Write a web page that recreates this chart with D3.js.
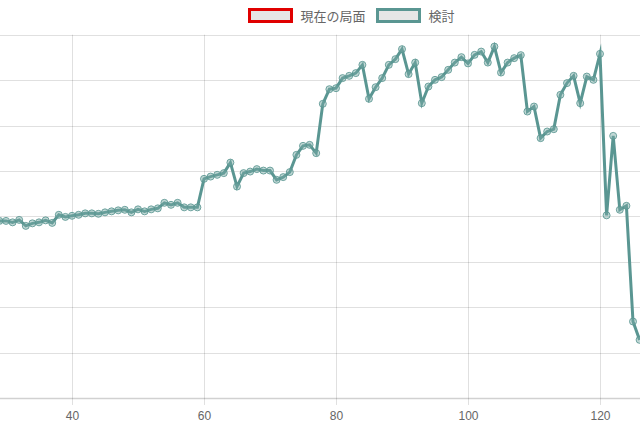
<!DOCTYPE html>
<html>
<head>
<meta charset="utf-8">
<script src="https://cdn.jsdelivr.net/npm/d3@7"></script>
<style>
html,body{margin:0;padding:0;background:#fff;}
svg{display:block;}
text{font-family:"Liberation Sans","Noto Sans CJK JP",Arial,sans-serif;}
</style>
</head>
<body>
<svg id="chart" width="640" height="427"></svg>
<script>
// ---- data ----
const moves = [29,30,31,32,33,34,35,36,37,38,39,40,41,42,43,44,45,46,47,48,49,50,51,52,53,54,55,56,57,58,59,60,61,62,63,64,65,66,67,68,69,70,71,72,73,74,75,76,77,78,79,80,81,82,83,84,85,86,87,88,89,90,91,92,93,94,95,96,97,98,99,100,101,102,103,104,105,106,107,108,109,110,111,112,113,114,115,116,117,118,119,120,121,122,123,124,125,126];
const kentouValues = [-50,-50,-66,-39,-105,-77,-66,-44,-72,17,-6,6,17,33,33,28,44,55,66,72,44,77,55,77,88,149,127,149,99,99,99,413,438,457,476,592,328,476,493,520,504,504,402,432,487,677,776,787,696,1239,1400,1411,1522,1547,1577,1668,1294,1422,1522,1668,1731,1841,1566,1693,1246,1429,1503,1533,1613,1693,1753,1684,1778,1814,1693,1869,1583,1693,1742,1775,1154,1209,861,934,960,1338,1467,1547,1246,1539,1503,1789,11,886,72,116,-1158,-1360];
const currentValues = [];
const seriesNames = ["現在の局面","検討"];
const xTicks = [40,60,80,100,120];
const yGrid = [-2000,-1500,-1000,-500,0,500,1000,1500,2000];

// ---- layout ----
const W = 640, H = 427;
const plotTop = 34.7, plotBottom = 398;
const svg = d3.select("#chart");

const x = d3.scaleLinear().domain([40,120]).range([72,600]);
const y = d3.scaleLinear().domain([-2000,2000]).range([plotBottom, plotTop]);

const teal = "#5a9692", red = "#e00000";

// horizontal grid
svg.append("g").selectAll("line").data(yGrid).join("line")
  .attr("x1",0).attr("x2",W)
  .attr("y1",d=>Math.round(y(d))+0.5).attr("y2",d=>Math.round(y(d))+0.5)
  .attr("stroke", d=> d===-2000 ? "rgba(0,0,0,0.18)" : "rgba(0,0,0,0.12)")
  .attr("stroke-width", d=> d===-2000 ? 1.5 : 1);

// x axis with vertical grid
const xAxis = d3.axisBottom(x).tickValues(xTicks).tickSize(plotBottom - plotTop + 7).tickPadding(6);
const gx = svg.append("g").attr("transform",`translate(0,${plotTop})`).call(xAxis);
gx.select(".domain").remove();
gx.selectAll(".tick line").attr("stroke","rgba(0,0,0,0.12)");
gx.selectAll(".tick text").attr("fill","#666").attr("font-size",12)
  .attr("font-family","'Liberation Sans',Arial,sans-serif");

// line
svg.append("defs").append("clipPath").attr("id","clip")
  .append("rect").attr("x",0).attr("y",0).attr("width",W).attr("height",H);
const pts = moves.map((m,i)=>({m, v:kentouValues[i]}));
const line = d3.line().x(d=>x(d.m)).y(d=>y(d.v));
const g = svg.append("g").attr("clip-path","url(#clip)");
g.append("path").datum(pts).attr("d",line)
  .attr("fill","none").attr("stroke",teal).attr("stroke-width",3)
  .attr("stroke-linejoin","miter").attr("stroke-miterlimit",10);
g.selectAll("circle").data(pts).join("circle")
  .attr("cx",d=>x(d.m)).attr("cy",d=>y(d.v)).attr("r",3.5)
  .attr("fill","rgba(120,168,164,0.45)").attr("stroke",teal).attr("stroke-opacity",0.85).attr("stroke-width",1);

// legend
const legend = svg.append("g");
const items = [{name:seriesNames[0], color:red, x:249.5},{name:seriesNames[1], color:teal, x:377.5}];
items.forEach(it=>{
  legend.append("rect").attr("x",it.x).attr("y",9.5).attr("width",42).attr("height",12)
    .attr("fill","#e6e6e6").attr("stroke",it.color).attr("stroke-width",3);
  legend.append("text").attr("x",it.x+51).attr("y",16).attr("dy","0.35em")
    .attr("font-size",13).attr("fill","#666").text(it.name);
});
</script>
</body>
</html>
